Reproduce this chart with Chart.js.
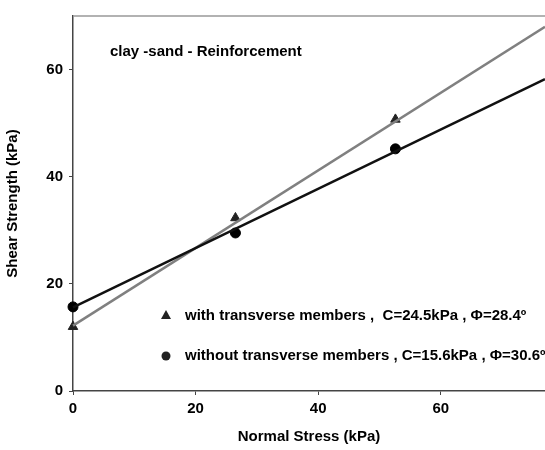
<!DOCTYPE html>
<html>
<head>
<meta charset="utf-8">
<script src="https://cdn.jsdelivr.net/npm/chart.js@4"></script>
<style>
  html, body { margin: 0; padding: 0; background: #fff; }
  #wrap { width: 545px; height: 450px; }
</style>
</head>
<body>
<div id="wrap"><canvas id="shear"></canvas></div>
<script>
// measured points
const stress = [0, 26.5, 52.6];
const withMembers = [12, 32.3, 50.7];
const withoutMembers = [15.7, 29.5, 45.2];

// fitted lines (end points)
const fitX = [0, 77];
const fitWith = [12.2, 68];
const fitWithout = [15.6, 58.2];

const chartTitle = 'clay -sand - Reinforcement';
const legendWith = 'with transverse members ,  C=24.5kPa , \u03A6=28.4\u00BA';
const legendWithout = 'without transverse members , C=15.6kPa , \u03A6=30.6\u00BA';

function pts(xs, ys) {
    return xs.map((x, i) => ({ x: x, y: ys[i] }));
}

const FONT = 'Arial, "Liberation Sans", sans-serif';
const F = { family: FONT, size: 15, weight: 'bold' };

const notes = {
    id: 'notes',
    beforeDatasetsDraw(chart) {
        const c = chart.ctx;
        const a = chart.chartArea;
        c.save();
        c.strokeStyle = '#999';
        c.lineWidth = 1.5;
        c.beginPath();
        c.moveTo(a.left, a.top);
        c.lineTo(a.right, a.top);
        c.stroke();
        c.restore();
    },
    afterDraw(chart) {
        const c = chart.ctx;
        c.save();
        c.fillStyle = '#000';
        c.font = 'bold 15px ' + FONT;
        c.textBaseline = 'middle';
        c.fillText(chartTitle, 110, 52);

        // legend markers
        c.fillStyle = '#222';
        c.beginPath();
        c.moveTo(166, 310);
        c.lineTo(171, 319);
        c.lineTo(161, 319);
        c.closePath();
        c.fill();
        c.beginPath();
        c.arc(166, 356, 4.5, 0, Math.PI * 2);
        c.fill();

        c.fillStyle = '#000';
        c.fillText(legendWith, 185, 316);
        c.fillText(legendWithout, 185, 356);
        c.restore();
    }
};

new Chart(document.getElementById('shear'), {
    type: 'scatter',
    data: {
        datasets: [
            {
                data: pts(fitX, fitWithout),
                showLine: true,
                borderColor: '#111',
                borderWidth: 2.5,
                pointRadius: 0
            },
            {
                data: pts(fitX, fitWith),
                showLine: true,
                borderColor: '#808080',
                borderWidth: 2.5,
                pointRadius: 0
            },
            {
                data: pts(stress, withMembers),
                pointStyle: 'triangle',
                pointRadius: 5.5,
                backgroundColor: '#222',
                borderColor: '#222',
                borderWidth: 1
            },
            {
                data: pts(stress, withoutMembers),
                pointStyle: 'circle',
                pointRadius: 5,
                backgroundColor: '#000',
                borderColor: '#000',
                borderWidth: 1
            }
        ]
    },
    options: {
        responsive: true,
        maintainAspectRatio: false,
        animation: false,
        clip: false,
        layout: { autoPadding: false, padding: { top: 16, right: 0, left: 0, bottom: 0 } },
        plugins: {
            legend: { display: false },
            tooltip: { enabled: false }
        },
        scales: {
            x: {
                type: 'linear',
                min: 0,
                max: 77,
                afterBuildTicks: s => { s.ticks = s.ticks.filter(t => t.value % 20 === 0); },
                afterFit: s => { s.height = 59; s.paddingRight = 0; },
                ticks: {
                    stepSize: 20,
                    color: '#000',
                    font: F,
                    padding: 5
                },
                grid: {
                    drawOnChartArea: false,
                    drawTicks: true,
                    tickLength: 4,
                    color: '#444'
                },
                border: { display: true, color: '#444', width: 1.5 },
                title: {
                    display: true,
                    text: 'Normal Stress (kPa)',
                    color: '#000',
                    font: F,
                    padding: { top: 10 }
                }
            },
            y: {
                type: 'linear',
                min: 0,
                max: 70,
                afterBuildTicks: s => { s.ticks = s.ticks.filter(t => t.value % 20 === 0); },
                afterFit: s => { s.width = 73; },
                ticks: {
                    stepSize: 20,
                    color: '#000',
                    font: F,
                    padding: 6
                },
                grid: {
                    drawOnChartArea: false,
                    drawTicks: true,
                    tickLength: 4,
                    color: '#444'
                },
                border: { display: true, color: '#444', width: 1.5 },
                title: {
                    display: true,
                    text: 'Shear Strength (kPa)',
                    color: '#000',
                    font: F,
                    padding: { bottom: 14 }
                }
            }
        }
    },
    plugins: [notes]
});
</script>
</body>
</html>
